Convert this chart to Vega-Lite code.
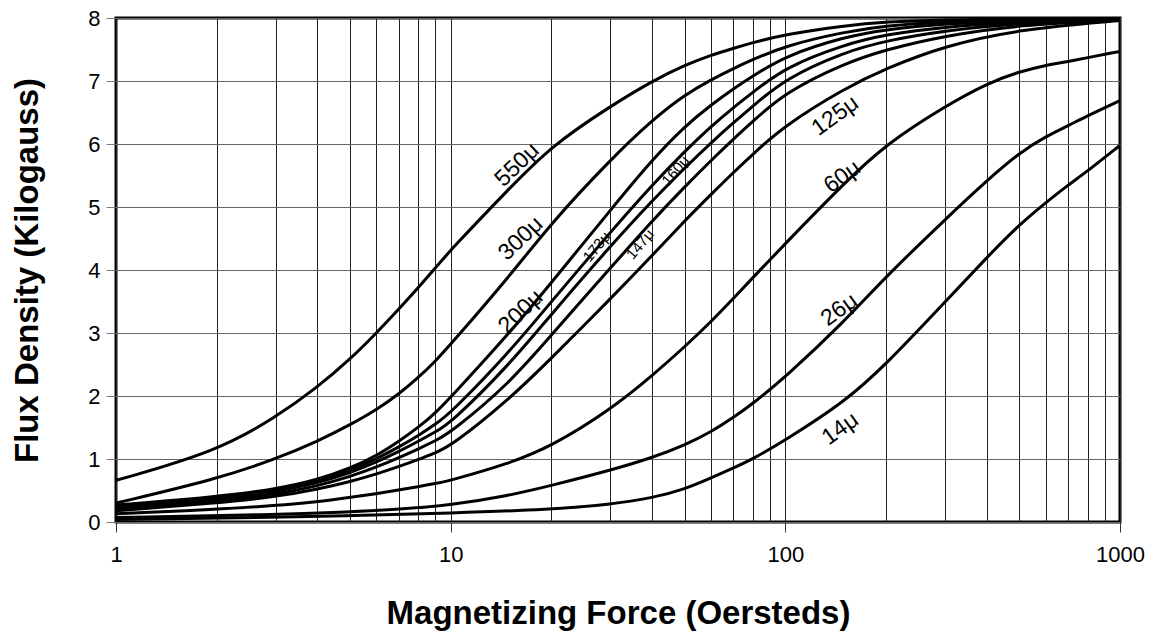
{
  "$schema": "https://vega.github.io/schema/vega-lite/v6.json",
  "width": 1004,
  "height": 504,
  "autosize": {"type": "none"},
  "padding": {"left": 116, "top": 18, "right": 34, "bottom": 111},
  "background": "white",
  "config": {
    "view": {"stroke": "black", "strokeWidth": 3},
    "font": "Liberation Sans"
  },
  "datasets": {
    "curves": [
      {"series": "550", "H": 1, "B": 0.66}, {"series": "550", "H": 2, "B": 1.12}, {"series": "550", "H": 3, "B": 1.66}, {"series": "550", "H": 4, "B": 2.14}, {"series": "550", "H": 5, "B": 2.58}, {"series": "550", "H": 6, "B": 3.0}, {"series": "550", "H": 7, "B": 3.38}, {"series": "550", "H": 8, "B": 3.72}, {"series": "550", "H": 9, "B": 4.03}, {"series": "550", "H": 10, "B": 4.32}, {"series": "550", "H": 15, "B": 5.3}, {"series": "550", "H": 20, "B": 5.97}, {"series": "550", "H": 30, "B": 6.6}, {"series": "550", "H": 40, "B": 7.0}, {"series": "550", "H": 50, "B": 7.25}, {"series": "550", "H": 60, "B": 7.41}, {"series": "550", "H": 70, "B": 7.52}, {"series": "550", "H": 80, "B": 7.61}, {"series": "550", "H": 100, "B": 7.74}, {"series": "550", "H": 150, "B": 7.88}, {"series": "550", "H": 200, "B": 7.94}, {"series": "550", "H": 300, "B": 7.97}, {"series": "550", "H": 500, "B": 7.99}, {"series": "550", "H": 1000, "B": 8.0},
      {"series": "300", "H": 1, "B": 0.3}, {"series": "300", "H": 2, "B": 0.68}, {"series": "300", "H": 3, "B": 1.0}, {"series": "300", "H": 4, "B": 1.28}, {"series": "300", "H": 5, "B": 1.54}, {"series": "300", "H": 6, "B": 1.78}, {"series": "300", "H": 7, "B": 2.03}, {"series": "300", "H": 8, "B": 2.29}, {"series": "300", "H": 9, "B": 2.55}, {"series": "300", "H": 10, "B": 2.82}, {"series": "300", "H": 15, "B": 3.9}, {"series": "300", "H": 20, "B": 4.75}, {"series": "300", "H": 30, "B": 5.75}, {"series": "300", "H": 40, "B": 6.38}, {"series": "300", "H": 50, "B": 6.78}, {"series": "300", "H": 60, "B": 7.02}, {"series": "300", "H": 70, "B": 7.2}, {"series": "300", "H": 80, "B": 7.34}, {"series": "300", "H": 100, "B": 7.56}, {"series": "300", "H": 150, "B": 7.78}, {"series": "300", "H": 200, "B": 7.88}, {"series": "300", "H": 300, "B": 7.94}, {"series": "300", "H": 500, "B": 7.98}, {"series": "300", "H": 1000, "B": 8.0},
      {"series": "200", "H": 1, "B": 0.27}, {"series": "200", "H": 2, "B": 0.4}, {"series": "200", "H": 3, "B": 0.52}, {"series": "200", "H": 4, "B": 0.67}, {"series": "200", "H": 5, "B": 0.85}, {"series": "200", "H": 6, "B": 1.05}, {"series": "200", "H": 7, "B": 1.28}, {"series": "200", "H": 8, "B": 1.5}, {"series": "200", "H": 9, "B": 1.73}, {"series": "200", "H": 10, "B": 1.98}, {"series": "200", "H": 15, "B": 3.0}, {"series": "200", "H": 20, "B": 3.8}, {"series": "200", "H": 30, "B": 4.95}, {"series": "200", "H": 40, "B": 5.75}, {"series": "200", "H": 50, "B": 6.28}, {"series": "200", "H": 60, "B": 6.62}, {"series": "200", "H": 70, "B": 6.88}, {"series": "200", "H": 80, "B": 7.08}, {"series": "200", "H": 100, "B": 7.4}, {"series": "200", "H": 150, "B": 7.7}, {"series": "200", "H": 200, "B": 7.82}, {"series": "200", "H": 300, "B": 7.91}, {"series": "200", "H": 500, "B": 7.96}, {"series": "200", "H": 1000, "B": 8.0},
      {"series": "173", "H": 1, "B": 0.25}, {"series": "173", "H": 2, "B": 0.38}, {"series": "173", "H": 3, "B": 0.5}, {"series": "173", "H": 4, "B": 0.65}, {"series": "173", "H": 5, "B": 0.82}, {"series": "173", "H": 6, "B": 1.0}, {"series": "173", "H": 7, "B": 1.19}, {"series": "173", "H": 8, "B": 1.37}, {"series": "173", "H": 9, "B": 1.55}, {"series": "173", "H": 10, "B": 1.73}, {"series": "173", "H": 15, "B": 2.7}, {"series": "173", "H": 20, "B": 3.5}, {"series": "173", "H": 30, "B": 4.6}, {"series": "173", "H": 40, "B": 5.35}, {"series": "173", "H": 50, "B": 5.88}, {"series": "173", "H": 60, "B": 6.28}, {"series": "173", "H": 70, "B": 6.58}, {"series": "173", "H": 80, "B": 6.82}, {"series": "173", "H": 100, "B": 7.22}, {"series": "173", "H": 150, "B": 7.58}, {"series": "173", "H": 200, "B": 7.74}, {"series": "173", "H": 300, "B": 7.86}, {"series": "173", "H": 500, "B": 7.94}, {"series": "173", "H": 1000, "B": 7.99},
      {"series": "160", "H": 1, "B": 0.23}, {"series": "160", "H": 2, "B": 0.36}, {"series": "160", "H": 3, "B": 0.48}, {"series": "160", "H": 4, "B": 0.62}, {"series": "160", "H": 5, "B": 0.78}, {"series": "160", "H": 6, "B": 0.95}, {"series": "160", "H": 7, "B": 1.12}, {"series": "160", "H": 8, "B": 1.28}, {"series": "160", "H": 9, "B": 1.43}, {"series": "160", "H": 10, "B": 1.57}, {"series": "160", "H": 15, "B": 2.5}, {"series": "160", "H": 20, "B": 3.3}, {"series": "160", "H": 30, "B": 4.38}, {"series": "160", "H": 40, "B": 5.1}, {"series": "160", "H": 50, "B": 5.62}, {"series": "160", "H": 60, "B": 6.02}, {"series": "160", "H": 70, "B": 6.34}, {"series": "160", "H": 80, "B": 6.6}, {"series": "160", "H": 100, "B": 7.04}, {"series": "160", "H": 150, "B": 7.46}, {"series": "160", "H": 200, "B": 7.64}, {"series": "160", "H": 300, "B": 7.8}, {"series": "160", "H": 500, "B": 7.92}, {"series": "160", "H": 1000, "B": 7.98},
      {"series": "147", "H": 1, "B": 0.21}, {"series": "147", "H": 2, "B": 0.33}, {"series": "147", "H": 3, "B": 0.44}, {"series": "147", "H": 4, "B": 0.57}, {"series": "147", "H": 5, "B": 0.72}, {"series": "147", "H": 6, "B": 0.87}, {"series": "147", "H": 7, "B": 1.02}, {"series": "147", "H": 8, "B": 1.16}, {"series": "147", "H": 9, "B": 1.29}, {"series": "147", "H": 10, "B": 1.42}, {"series": "147", "H": 15, "B": 2.2}, {"series": "147", "H": 20, "B": 2.97}, {"series": "147", "H": 30, "B": 4.03}, {"series": "147", "H": 40, "B": 4.78}, {"series": "147", "H": 50, "B": 5.32}, {"series": "147", "H": 60, "B": 5.74}, {"series": "147", "H": 70, "B": 6.08}, {"series": "147", "H": 80, "B": 6.36}, {"series": "147", "H": 100, "B": 6.82}, {"series": "147", "H": 150, "B": 7.28}, {"series": "147", "H": 200, "B": 7.5}, {"series": "147", "H": 300, "B": 7.72}, {"series": "147", "H": 500, "B": 7.89}, {"series": "147", "H": 1000, "B": 7.97},
      {"series": "125", "H": 1, "B": 0.18}, {"series": "125", "H": 2, "B": 0.3}, {"series": "125", "H": 3, "B": 0.4}, {"series": "125", "H": 4, "B": 0.52}, {"series": "125", "H": 5, "B": 0.64}, {"series": "125", "H": 6, "B": 0.76}, {"series": "125", "H": 7, "B": 0.88}, {"series": "125", "H": 8, "B": 0.99}, {"series": "125", "H": 9, "B": 1.1}, {"series": "125", "H": 10, "B": 1.2}, {"series": "125", "H": 15, "B": 1.95}, {"series": "125", "H": 20, "B": 2.6}, {"series": "125", "H": 30, "B": 3.54}, {"series": "125", "H": 40, "B": 4.23}, {"series": "125", "H": 50, "B": 4.78}, {"series": "125", "H": 60, "B": 5.2}, {"series": "125", "H": 70, "B": 5.55}, {"series": "125", "H": 80, "B": 5.84}, {"series": "125", "H": 100, "B": 6.3}, {"series": "125", "H": 150, "B": 6.88}, {"series": "125", "H": 200, "B": 7.2}, {"series": "125", "H": 300, "B": 7.56}, {"series": "125", "H": 500, "B": 7.82}, {"series": "125", "H": 1000, "B": 7.96},
      {"series": "60", "H": 1, "B": 0.13}, {"series": "60", "H": 2, "B": 0.2}, {"series": "60", "H": 3, "B": 0.26}, {"series": "60", "H": 4, "B": 0.32}, {"series": "60", "H": 5, "B": 0.39}, {"series": "60", "H": 6, "B": 0.45}, {"series": "60", "H": 7, "B": 0.51}, {"series": "60", "H": 8, "B": 0.56}, {"series": "60", "H": 9, "B": 0.61}, {"series": "60", "H": 10, "B": 0.66}, {"series": "60", "H": 15, "B": 0.93}, {"series": "60", "H": 20, "B": 1.2}, {"series": "60", "H": 30, "B": 1.78}, {"series": "60", "H": 40, "B": 2.32}, {"series": "60", "H": 50, "B": 2.78}, {"series": "60", "H": 60, "B": 3.18}, {"series": "60", "H": 70, "B": 3.55}, {"series": "60", "H": 80, "B": 3.88}, {"series": "60", "H": 100, "B": 4.42}, {"series": "60", "H": 150, "B": 5.38}, {"series": "60", "H": 200, "B": 6.0}, {"series": "60", "H": 300, "B": 6.6}, {"series": "60", "H": 400, "B": 6.96}, {"series": "60", "H": 500, "B": 7.15}, {"series": "60", "H": 600, "B": 7.25}, {"series": "60", "H": 700, "B": 7.31}, {"series": "60", "H": 1000, "B": 7.47},
      {"series": "26", "H": 1, "B": 0.07}, {"series": "26", "H": 2, "B": 0.1}, {"series": "26", "H": 3, "B": 0.12}, {"series": "26", "H": 5, "B": 0.16}, {"series": "26", "H": 7, "B": 0.2}, {"series": "26", "H": 10, "B": 0.27}, {"series": "26", "H": 15, "B": 0.42}, {"series": "26", "H": 20, "B": 0.58}, {"series": "26", "H": 30, "B": 0.82}, {"series": "26", "H": 40, "B": 1.02}, {"series": "26", "H": 50, "B": 1.22}, {"series": "26", "H": 60, "B": 1.43}, {"series": "26", "H": 70, "B": 1.66}, {"series": "26", "H": 80, "B": 1.88}, {"series": "26", "H": 100, "B": 2.3}, {"series": "26", "H": 150, "B": 3.18}, {"series": "26", "H": 200, "B": 3.9}, {"series": "26", "H": 300, "B": 4.8}, {"series": "26", "H": 400, "B": 5.42}, {"series": "26", "H": 500, "B": 5.86}, {"series": "26", "H": 600, "B": 6.12}, {"series": "26", "H": 700, "B": 6.29}, {"series": "26", "H": 800, "B": 6.45}, {"series": "26", "H": 1000, "B": 6.69},
      {"series": "14", "H": 1, "B": 0.04}, {"series": "14", "H": 2, "B": 0.06}, {"series": "14", "H": 5, "B": 0.1}, {"series": "14", "H": 10, "B": 0.14}, {"series": "14", "H": 20, "B": 0.2}, {"series": "14", "H": 30, "B": 0.28}, {"series": "14", "H": 40, "B": 0.38}, {"series": "14", "H": 50, "B": 0.52}, {"series": "14", "H": 60, "B": 0.7}, {"series": "14", "H": 70, "B": 0.86}, {"series": "14", "H": 80, "B": 1.0}, {"series": "14", "H": 100, "B": 1.3}, {"series": "14", "H": 150, "B": 1.9}, {"series": "14", "H": 200, "B": 2.5}, {"series": "14", "H": 300, "B": 3.49}, {"series": "14", "H": 400, "B": 4.2}, {"series": "14", "H": 500, "B": 4.72}, {"series": "14", "H": 600, "B": 5.07}, {"series": "14", "H": 700, "B": 5.35}, {"series": "14", "H": 800, "B": 5.57}, {"series": "14", "H": 1000, "B": 5.98}
    ],
    "labels": [
      {"text": "550μ", "group": "a", "H": 15.8, "B": 5.67},
      {"text": "300μ", "group": "a", "H": 16.2, "B": 4.5},
      {"text": "200μ", "group": "a", "H": 16.2, "B": 3.34},
      {"text": "173μ", "group": "b", "H": 27.3, "B": 4.37},
      {"text": "147μ", "group": "b", "H": 36.8, "B": 4.41},
      {"text": "160μ", "group": "b", "H": 47.0, "B": 5.58},
      {"text": "125μ", "group": "c", "H": 141, "B": 6.45},
      {"text": "60μ", "group": "c", "H": 148, "B": 5.48},
      {"text": "26μ", "group": "c", "H": 145, "B": 3.37},
      {"text": "14μ", "group": "c", "H": 146, "B": 1.48}
    ]
  },
  "layer": [
    {
      "data": {"name": "curves"},
      "mark": {"type": "line", "color": "black", "strokeWidth": 3, "interpolate": "basis", "clip": true},
      "encoding": {
        "x": {
          "field": "H", "type": "quantitative",
          "scale": {"type": "log", "domain": [1, 1000], "nice": false},
          "axis": {
            "values": [1, 2, 3, 4, 5, 6, 7, 8, 9, 10, 20, 30, 40, 50, 60, 70, 80, 90, 100, 200, 300, 400, 500, 600, 700, 800, 900, 1000],
            "labelExpr": "indexof([1, 10, 100, 1000], datum.value) >= 0 ? format(datum.value, 'd') : ''",
            "grid": true, "gridColor": "#222", "gridWidth": 1,
            "domain": false,
            "ticks": true, "tickSize": 10, "tickColor": "#333", "tickWidth": 1,
            "tickOpacity": {"condition": {"test": "indexof([1, 10, 100, 1000], datum.value) >= 0", "value": 1}, "value": 0},
            "labelFont": "Liberation Sans", "labelFontSize": 22, "labelColor": "black", "labelPadding": 12,
            "labelFlush": false, "labelOverlap": false,
            "title": "Magnetizing Force (Oersteds)",
            "titleFont": "Liberation Sans", "titleFontSize": 33, "titleFontWeight": "bold", "titleColor": "black",
            "titleX": 502, "titleY": 101, "titleBaseline": "alphabetic", "titleAlign": "center"
          }
        },
        "y": {
          "field": "B", "type": "quantitative",
          "scale": {"domain": [0, 8], "nice": false},
          "axis": {
            "values": [0, 1, 2, 3, 4, 5, 6, 7, 8],
            "format": "d",
            "grid": true, "gridColor": "#666", "gridWidth": 1,
            "domain": false,
            "tickSize": 10, "tickColor": "#777", "tickWidth": 1,
            "labelFont": "Liberation Sans", "labelFontSize": 22, "labelColor": "black", "labelPadding": 6,
            "title": "Flux Density (Kilogauss)",
            "titleFont": "Liberation Sans", "titleFontSize": 33, "titleFontWeight": "bold", "titleColor": "black",
            "titleAngle": -90, "titleX": -79, "titleY": 252, "titleBaseline": "alphabetic", "titleAlign": "center"
          }
        },
        "detail": {"field": "series", "type": "nominal"}
      }
    },
    {
      "data": {"name": "labels"},
      "transform": [{"filter": "datum.group === 'a'"}],
      "mark": {"type": "text", "font": "Liberation Sans", "fontSize": 23, "angle": -44, "align": "center", "baseline": "middle", "color": "black"},
      "encoding": {
        "x": {"field": "H", "type": "quantitative"},
        "y": {"field": "B", "type": "quantitative"},
        "text": {"field": "text"}
      }
    },
    {
      "data": {"name": "labels"},
      "transform": [{"filter": "datum.group === 'b'"}],
      "mark": {"type": "text", "font": "Liberation Sans", "fontSize": 15, "angle": -50, "align": "center", "baseline": "middle", "color": "black"},
      "encoding": {
        "x": {"field": "H", "type": "quantitative"},
        "y": {"field": "B", "type": "quantitative"},
        "text": {"field": "text"}
      }
    },
    {
      "data": {"name": "labels"},
      "transform": [{"filter": "datum.group === 'c'"}],
      "mark": {"type": "text", "font": "Liberation Sans", "fontSize": 23, "angle": -36, "align": "center", "baseline": "middle", "color": "black"},
      "encoding": {
        "x": {"field": "H", "type": "quantitative"},
        "y": {"field": "B", "type": "quantitative"},
        "text": {"field": "text"}
      }
    }
  ]
}
